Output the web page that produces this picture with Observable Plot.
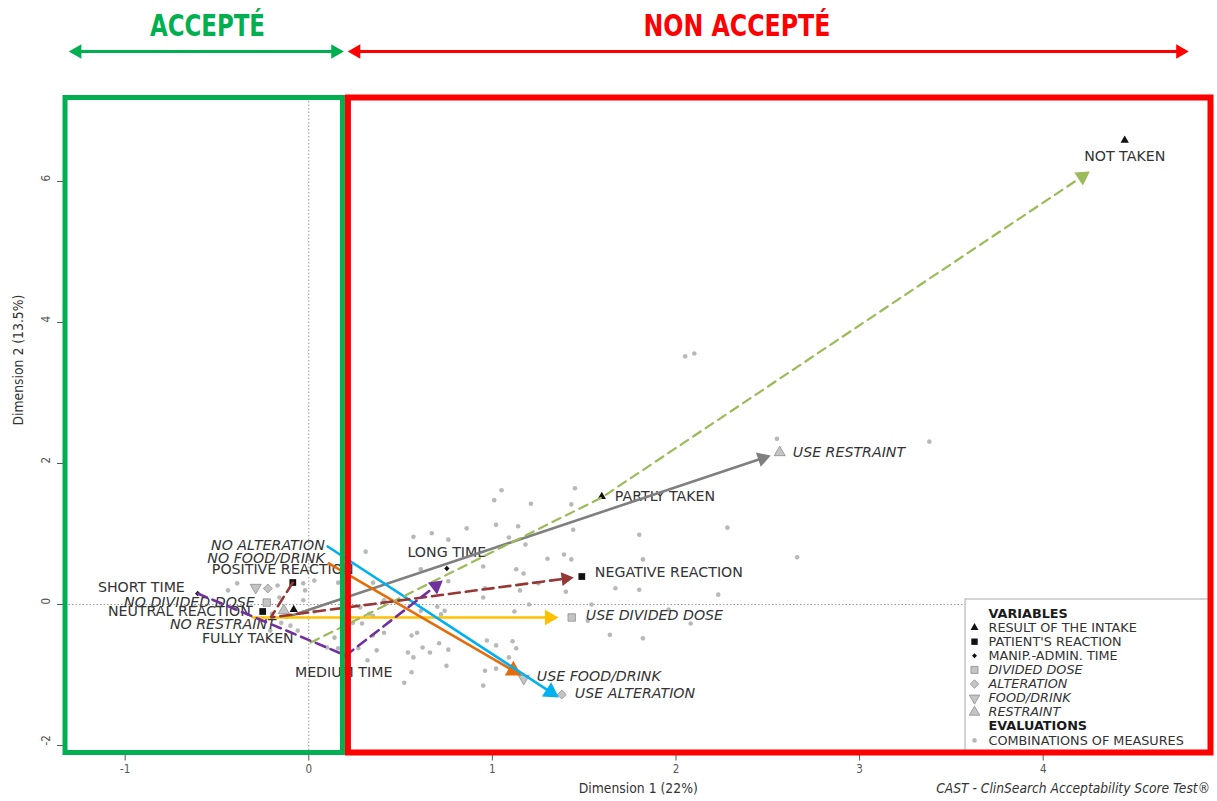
<!DOCTYPE html>
<html><head><meta charset="utf-8">
<script src="https://cdn.jsdelivr.net/npm/d3@7"></script>
<script src="https://cdn.jsdelivr.net/npm/@observablehq/plot@0.6"></script>
<style>
body{margin:0;background:#fff;}
#chart{position:relative;width:1217px;height:801px;}
</style></head><body><div id="chart"></div>
<script>
// ---------- DATA ----------
const variables = ["RESULT OF THE INTAKE","PATIENT'S REACTION","MANIP.-ADMIN. TIME","DIVIDED DOSE","ALTERATION","FOOD/DRINK","RESTRAINT"];

const modalityLabels = ["NOT TAKEN","PARTLY TAKEN","FULLY TAKEN","NEGATIVE REACTION","POSITIVE REACTION","NEUTRAL REACTION","SHORT TIME","LONG TIME","MEDIUM TIME","NO DIVIDED DOSE","USE DIVIDED DOSE","NO ALTERATION","USE ALTERATION","NO FOOD/DRINK","USE FOOD/DRINK","NO RESTRAINT","USE RESTRAINT"];
const modalityVariable = [0,0,0,1,1,1,2,2,2,3,3,4,4,5,5,6,6];
const modalityX = [4.444,1.596,-0.082,1.487,-0.087,-0.251,-0.605,0.752,0.19,-0.229,1.432,-0.223,1.378,-0.289,1.171,-0.136,2.565];
const modalityY = [6.582,1.532,-0.071,0.397,0.312,-0.099,0.156,0.511,-0.72,0.028,-0.184,0.227,-1.277,0.241,-1.05,-0.085,2.156];
const labelX = [4.444,1.667,-0.082,1.558,-0.528,-0.316,-0.675,0.752,0.19,-0.294,1.509,0.087,1.449,0.087,1.242,-0.18,2.636];
const labelY = [6.355,1.532,-0.482,0.454,0.496,-0.099,0.241,0.738,-0.965,0.028,-0.156,0.837,-1.262,0.652,-1.021,-0.284,2.156];
const labelAnchor = ["middle","start","end","start","start","end","end","middle","middle","end","start","end","start","end","start","end","start"];

// combinations of measures (evaluations)
const comboX = [-0.39,-0.44,-0.17,-0.16,-0.03,-0.03,0.03,-0.03,-0.20,-0.15,-0.06,-0.10,0.10,0.14,0.03,0.16,-0.21,-0.02,
 0.31,0.28,0.33,0.24,0.29,0.16,0.27,0.32,0.37,0.35,0.35,0.41,0.41,0.35,1.01,1.21,0.86,1.02,1.14,0.57,0.67,0.76,1.09,1.18,
 1.30,1.39,0.95,0.61,1.13,1.17,0.76,0.96,1.15,1.25,1.40,0.70,0.74,0.72,0.61,1.12,1.20,0.95,0.56,0.59,0.62,0.66,0.54,0.71,
 0.76,0.57,0.97,1.02,1.11,1.13,1.09,0.75,0.96,1.02,0.95,0.56,0.52,1.05,
 1.45,1.43,1.44,1.80,2.28,1.43,1.82,2.66,1.67,1.80,2.23,1.54,1.96,1.52,2.08,1.64,1.82,2.05,2.10,2.55,3.38];
const comboY = [0.30,0.20,0.27,0.10,0.30,0.06,0.34,-0.11,-0.13,-0.26,-0.37,-0.30,-0.61,-0.47,-0.10,0.31,-0.37,0.20,
 0.75,-0.04,-0.13,-0.26,-0.27,-0.62,-0.62,-0.79,-0.65,-0.44,-0.16,0.06,-0.40,0.31,1.48,1.43,1.08,1.13,1.11,0.96,1.01,0.92,0.95,0.85,
 0.65,0.71,0.54,0.50,0.50,0.44,0.33,0.23,0.20,0.30,0.18,-0.03,-0.09,-0.14,-0.09,-0.10,0.00,0.10,-0.44,-0.40,-0.61,-0.68,-0.68,-0.55,
 -0.64,-0.75,-0.51,-0.58,-0.52,-0.62,-0.75,-0.87,-0.94,-0.91,-1.15,-0.96,-1.11,1.62,
 1.65,1.42,1.06,0.99,1.09,0.64,0.64,0.67,0.23,0.21,0.14,0.00,-0.07,-0.23,-0.27,-0.43,-0.48,3.52,3.56,2.35,2.31];

// hand-drawn arrows (paths per variable)
const arrowNames = ["RESTRAINT","DIVIDED DOSE","FOOD/DRINK","ALTERATION","RESULT OF THE INTAKE","PATIENT'S REACTION","MANIP.-ADMIN. TIME"];
const arrowPathX = [[-0.125,2.516],[-0.305,1.360],[0.109,1.160],[0.103,1.362],[0.011,1.596,4.254],[-0.087,-0.207,1.443],[-0.605,0.202,0.730]];
const arrowPathY = [[-0.184,2.113],[-0.184,-0.184],[0.582,-1.007],[0.823,-1.319],[-0.539,1.518,6.142],[0.312,-0.184,0.383],[0.156,-0.723,0.340]];

const zoneNames = ["ACCEPTÉ","NON ACCEPTÉ"];
const zoneFrom = [-1.325, 0.216];
const zoneTo = [0.186, 4.914];
const zoneArrowFrom = [-1.307, 0.212];
const zoneArrowTo = [0.191, 4.793];
const zoneLabelX = [-0.552, 2.332];

const xTicks = [-1,0,1,2,3,4];
const yTicks = [-2,0,2,4,6];
const xTitle = "Dimension 1 (22%)";
const yTitle = "Dimension 2 (13.5%)";
const caption = "CAST - ClinSearch Acceptability Score Test®";
const legendTitles = ["VARIABLES","EVALUATIONS"];
const comboLegend = "COMBINATIONS OF MEASURES";

// ---------- LAYOUT ----------
const W = 1217, H = 801;
const mL = 65, mR = 6.5, mT = 97.5, mB = 48.5;
const xDom = [-1.325, 4.914], yDom = [-2.106, 7.184];
const kx = (W - mL - mR) / (xDom[1] - xDom[0]);
const ky = (H - mT - mB) / (yDom[1] - yDom[0]);
const pxX = p => xDom[0] + (p - mL) / kx;
const pxY = p => yDom[1] - (p - mT) / ky;

const FONT = "'DejaVu Sans', Verdana, sans-serif";
const COND = "'DejaVu Sans Condensed', 'Liberation Sans Narrow', 'DejaVu Sans', sans-serif";
const NARROWBOLD = "'Liberation Sans Narrow', 'DejaVu Sans Condensed', 'Liberation Sans', sans-serif";

const varStyle = [
  {symbol:"triangle", fill:"#111", stroke:"none", r:3.1, rotate:0, italic:false},
  {symbol:"square", fill:"#111", stroke:"none", r:3.8, rotate:0, italic:false},
  {symbol:"diamond2", fill:"#111", stroke:"none", r:2.4, rotate:0, italic:false},
  {symbol:"square", fill:"#c4c4c4", stroke:"#8e8e8e", r:4.2, rotate:0, italic:true},
  {symbol:"diamond2", fill:"#c4c4c4", stroke:"#8e8e8e", r:4.0, rotate:0, italic:true},
  {symbol:"triangle", fill:"#c4c4c4", stroke:"#8e8e8e", r:4.1, rotate:180, italic:true},
  {symbol:"triangle", fill:"#c4c4c4", stroke:"#8e8e8e", r:4.1, rotate:0, italic:true}
];
const arrowStyle = [
  {color:"#7f7f7f", dash:null, width:2.6, head:5.6},
  {color:"#ffc000", dash:null, width:2.6, head:5.8},
  {color:"#e46c0a", dash:null, width:2.6, head:6.3},
  {color:"#00b0f0", dash:null, width:2.6, head:6.3},
  {color:"#9bbb59", dash:"9,6", width:2.2, head:5.8},
  {color:"#953735", dash:"11,6", width:2.6, head:5.2},
  {color:"#7030a0", dash:"10,6", width:2.6, head:5.6}
];
const zoneColor = ["#00b050","#ff0000"];
const zoneTextWidth = [115, 187];

// ---------- TABLES ----------
const modalities = modalityLabels.map((label, i) => ({
  label, v: modalityVariable[i], x: modalityX[i], y: modalityY[i],
  lx: labelX[i], ly: labelY[i], anchor: labelAnchor[i]
}));
const combos = comboX.map((x, i) => ({x, y: comboY[i]}));

function tipDist(r){ return 2*Math.sqrt(Math.PI*r*r/(3*Math.sqrt(3))); }
function arrowGeom(xs, ys, r) {
  const n = xs.length;
  const dx = (xs[n-1]-xs[n-2])*kx, dy = -(ys[n-1]-ys[n-2])*ky;
  const L = Math.hypot(dx, dy), ux = dx/L, uy = dy/L;
  const t = tipDist(r);
  const hx = xs[n-1] - ux*t/kx, hy = ys[n-1] + uy*t/ky;
  const pts = xs.map((x, j) => ({x, y: ys[j]}));
  pts[n-1] = {x: hx, y: hy};
  return {pts, head: {x: hx, y: hy, rotate: Math.atan2(ux, -uy)*180/Math.PI}};
}

const marks = [];
// reference dotted lines
marks.push(Plot.ruleX([0], {stroke:"#9a9a9a", strokeWidth:1, strokeDasharray:"1.5,2"}));
marks.push(Plot.ruleY([0], {stroke:"#9a9a9a", strokeWidth:1, strokeDasharray:"1.5,2"}));
// axes
marks.push(Plot.axisX({ticks:xTicks, tickSize:8, tickPadding:4, tickFormat:d=>String(d), label:null, color:"#555", fontSize:11.5, fontFamily:COND}));
marks.push(Plot.axisY({ticks:yTicks, tickSize:8, tickFormat:()=>"", label:null, color:"#555"}));
marks.push(Plot.text(yTicks, {y:d=>d, text:d=>String(d), frameAnchor:"left", dx:-19, rotate:-90, fontSize:11.5, fontFamily:COND, fill:"#555"}));
// evaluations
marks.push(Plot.dot(combos, {x:"x", y:"y", r:2.3, fill:"#b8b8b8", stroke:"none"}));
// labels
for (const anchor of ["start","middle","end"]) {
  for (const italic of [false, true]) {
    const sub = modalities.filter(d => d.anchor === anchor && varStyle[d.v].italic === italic);
    if (!sub.length) continue;
    marks.push(Plot.text(sub, {x:"lx", y:"ly", text:"label", textAnchor:anchor, fontSize:14.2, fontFamily:FONT, fontStyle: italic ? "italic" : "normal", fill:"#333"}));
  }
}
// modality points
varStyle.forEach((s, v) => {
  marks.push(Plot.dot(modalities.filter(d => d.v === v), {x:"x", y:"y", symbol:s.symbol, r:s.r, fill:s.fill, stroke:s.stroke, strokeWidth:0.8, rotate:s.rotate}));
});
// arrows
arrowNames.forEach((name, i) => {
  const st = arrowStyle[i];
  const g = arrowGeom(arrowPathX[i], arrowPathY[i], st.head);
  const lineOpts = {x:"x", y:"y", stroke:st.color, strokeWidth:st.width, strokeLinejoin:"miter"};
  if (st.dash) lineOpts.strokeDasharray = st.dash;
  marks.push(Plot.line(g.pts, lineOpts));
  marks.push(Plot.dot([g.head], {x:"x", y:"y", rotate:"rotate", symbol:"triangle", r:st.head, fill:st.color, stroke:"none"}));
});
// legend
const lgRows = [legendTitles[0], ...variables, legendTitles[1], comboLegend];
const lgY = i => pxY(613 + i*14.1);
const lgTextX = pxX(988), lgSymX = pxX(974);
marks.push(Plot.rect([0], {x1:pxX(965), x2:pxX(1210), y1:pxY(599), y2:pxY(752), fill:"white", stroke:"#a8a8a8", strokeWidth:1}));
const lgItems = lgRows.map((t, i) => ({t, i, y: lgY(i)}));
marks.push(Plot.text(lgItems.filter(d => d.i === 0 || d.i === 8), {x:lgTextX, y:"y", text:"t", textAnchor:"start", fontSize:12.8, fontWeight:"bold", fontFamily:FONT, fill:"#1a1a1a"}));
marks.push(Plot.text(lgItems.filter(d => (d.i >= 1 && d.i <= 3) || d.i === 9), {x:lgTextX, y:"y", text:"t", textAnchor:"start", fontSize:12.8, fontFamily:FONT, fill:"#333"}));
marks.push(Plot.text(lgItems.filter(d => d.i >= 4 && d.i <= 7), {x:lgTextX, y:"y", text:"t", textAnchor:"start", fontSize:12.8, fontStyle:"italic", fontFamily:FONT, fill:"#333"}));
varStyle.forEach((s, v) => {
  marks.push(Plot.dot([{y: lgY(v+1)}], {x:lgSymX, y:"y", symbol:s.symbol, r:s.r*0.95, fill:s.fill, stroke:s.stroke, strokeWidth:0.8, rotate:s.rotate}));
});
marks.push(Plot.dot([{y: lgY(9)}], {x:lgSymX, y:"y", r:2.3, fill:"#b8b8b8"}));
// zone boxes
const zones = zoneNames.map((name, i) => ({name, x1:zoneFrom[i], x2:zoneTo[i], a1:zoneArrowFrom[i], a2:zoneArrowTo[i], lx:zoneLabelX[i], color:zoneColor[i]}));
zones.forEach((z, i) => {
  marks.push(Plot.rect([z], {x1:"x1", x2:"x2", y1:yDom[0], y2:yDom[1], fill:"none", stroke:z.color, strokeWidth: i === 0 ? 5 : 6}));
});
// header: zone names and double arrows
const hy = pxY(51), ty = pxY(26);
zones.forEach(z => {
  const hr = 5.4, t = tipDist(hr) / kx;
  marks.push(Plot.link([z], {x1:d=>d.a1 + t, x2:d=>d.a2 - t, y1:hy, y2:hy, stroke:z.color, strokeWidth:3}));
  marks.push(Plot.dot([{x:z.a1 + t, rot:-90},{x:z.a2 - t, rot:90}], {x:"x", y:hy, rotate:"rot", symbol:"triangle", r:hr, fill:z.color}));
  marks.push(Plot.text([z], {x:"lx", y:ty, text:"name", fontSize:31, fontWeight:"bold", fontFamily:NARROWBOLD, fill:z.color}));
});
// titles
marks.push(Plot.text([xTitle], {frameAnchor:"bottom", dy:40, text:d=>d, fontSize:13.8, fontFamily:COND, fill:"#333"}));
marks.push(Plot.text([yTitle], {frameAnchor:"left", dx:-47, rotate:-90, text:d=>d, fontSize:13.8, fontFamily:COND, fill:"#333"}));
marks.push(Plot.text([caption], {frameAnchor:"bottom-right", dy:40, dx:-1, textAnchor:"end", text:d=>d, fontSize:13.7, fontStyle:"italic", fontFamily:COND, fill:"#333"}));

const chart = Plot.plot({
  width: W, height: H,
  marginLeft: mL, marginRight: mR, marginTop: mT, marginBottom: mB,
  x: {domain: xDom, axis: null},
  y: {domain: yDom, axis: null},
  style: {background:"white", fontFamily: FONT, overflow:"visible"},
  marks
});
// fit the header words to the reference's condensed width
d3.select(chart).selectAll("text").each(function() {
  const i = zoneNames.indexOf(this.textContent);
  if (i >= 0) {
    this.setAttribute("textLength", zoneTextWidth[i]);
    this.setAttribute("lengthAdjust", "spacingAndGlyphs");
  }
});
document.getElementById("chart").append(chart);
</script></body></html>
